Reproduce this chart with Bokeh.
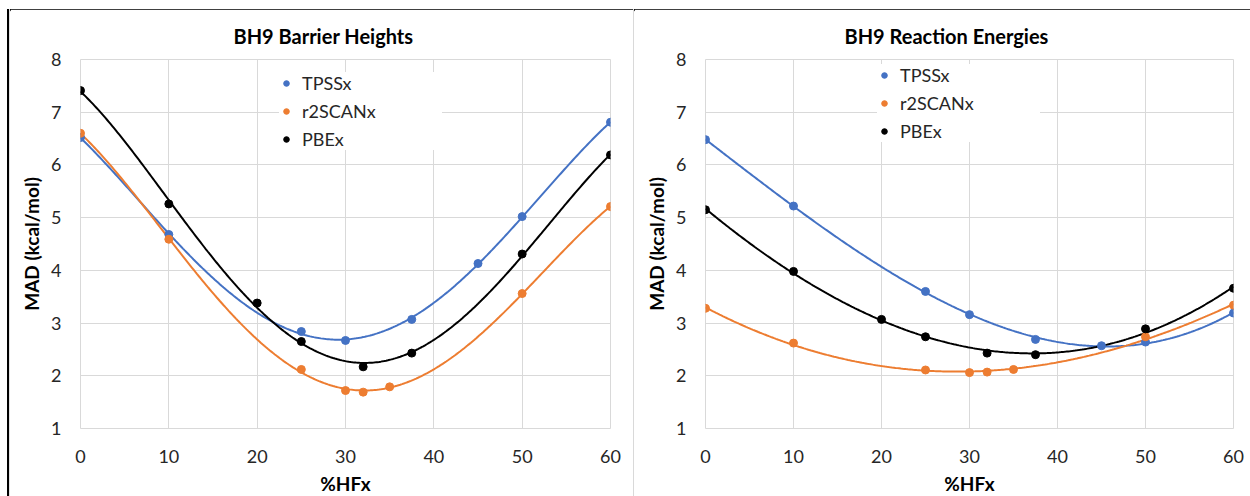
import numpy as np
from bokeh.plotting import figure
from bokeh.models import Legend, LegendItem, Range1d, FixedTicker, Div
from bokeh.layouts import row, column
from bokeh.embed import file_html
from bokeh.resources import INLINE

# %HF exchange values per series
hf_tpss = [0, 10, 25, 30, 37.5, 45, 50, 60]
hf_r2scan = [0, 10, 25, 30, 32, 35, 50, 60]
hf_pbe = [0, 10, 20, 25, 32, 37.5, 50, 60]

# BH9 barrier heights MAD (kcal/mol)
bh_tpss = [6.52, 4.68, 2.84, 2.67, 3.07, 4.13, 5.02, 6.81]
bh_r2scan = [6.60, 4.59, 2.12, 1.72, 1.69, 1.79, 3.56, 5.21]
bh_pbe = [7.41, 5.26, 3.38, 2.65, 2.17, 2.43, 4.31, 6.19]

# BH9 reaction energies MAD (kcal/mol)
re_tpss = [6.48, 5.22, 3.60, 3.16, 2.69, 2.57, 2.64, 3.19]
re_r2scan = [3.28, 2.62, 2.11, 2.06, 2.07, 2.12, 2.74, 3.34]
re_pbe = [5.15, 3.98, 3.07, 2.74, 2.43, 2.40, 2.89, 3.66]

series_names = ["TPSSx", "r2SCANx", "PBEx"]
series_colors = ["#4472C4", "#ED7D31", "#000000"]
x_ticks = [0, 10, 20, 30, 40, 50, 60]
y_ticks = [1, 2, 3, 4, 5, 6, 7, 8]

FONT = "Lato"
GRID = "#d9d9d9"
TXT = "#262626"


def make_panel(title, xs_list, ys_list, deg, borders, frame_w, legend_xy, title_offset):
    p = figure(output_backend="svg", toolbar_location=None,
               frame_width=frame_w, frame_height=369,
               min_border_left=borders[0], min_border_right=borders[1],
               min_border_top=50, min_border_bottom=68,
               x_range=Range1d(0, 60), y_range=Range1d(1, 8),
               background_fill_color="white", border_fill_color="white",
               outline_line_color=GRID)
    p.title.text = title
    p.title.align = "left"
    p.title.text_font = FONT
    p.title.text_font_style = "bold"
    p.title.text_font_size = "20px"
    p.title.text_color = "#000000"
    p.title.offset = title_offset
    p.title.standoff = 24

    for ax, ticks in ((p.xaxis, x_ticks), (p.yaxis, y_ticks)):
        ax.ticker = FixedTicker(ticks=ticks)
        ax.axis_line_color = None
        ax.major_tick_line_color = None
        ax.minor_tick_line_color = None
        ax.major_label_text_font = FONT
        ax.major_label_text_font_size = "18px"
        ax.major_label_text_color = TXT
        ax.axis_label_text_font = FONT
        ax.axis_label_text_font_style = "bold"
        ax.axis_label_text_font_size = "19px"
        ax.axis_label_text_color = "#000000"
    p.xaxis.axis_label = "%HFx"
    p.yaxis.axis_label = "MAD (kcal/mol)"
    p.xaxis.major_label_standoff = 15
    p.yaxis.major_label_standoff = 13
    p.xaxis.axis_label_standoff = 6
    p.yaxis.axis_label_standoff = 5

    p.xgrid.ticker = FixedTicker(ticks=x_ticks)
    p.ygrid.ticker = FixedTicker(ticks=y_ticks)
    for g in (p.xgrid, p.ygrid):
        g.grid_line_color = GRID
        g.grid_line_width = 1

    items = []
    xfine = np.linspace(0, 60, 301)
    for name, color, xs, ys in zip(series_names, series_colors, xs_list, ys_list):
        coef = np.polyfit(xs, ys, deg)
        p.line(xfine, np.polyval(coef, xfine), line_color=color, line_width=2)
    for name, color, xs, ys in zip(series_names, series_colors, xs_list, ys_list):
        r = p.scatter(xs, ys, marker="circle", size=8, fill_color=color, line_color=color)
        items.append(LegendItem(label=name, renderers=[r]))

    leg = Legend(items=items, location=legend_xy, margin=0, padding=6,
                 glyph_width=14, glyph_height=14, label_standoff=9,
                 spacing=6, label_height=20, label_width=140,
                 label_text_font=FONT, label_text_font_size="18px",
                 label_text_color=TXT, border_line_color=None,
                 background_fill_color="white", background_fill_alpha=1.0)
    p.add_layout(leg)
    return p


p1 = make_panel("BH9 Barrier Heights", [hf_tpss, hf_r2scan, hf_pbe],
                [bh_tpss, bh_r2scan, bh_pbe], 4, (70, 23), 530, (199, 278), 153)
p2 = make_panel("BH9 Reaction Energies", [hf_tpss, hf_r2scan, hf_pbe],
                [re_tpss, re_r2scan, re_pbe], 3, (71, 17), 528, (172, 286), 139)

top_html = ('<div style="position:relative;width:1250px;height:9px;overflow:hidden;">'
            '<div style="position:absolute;left:7px;top:6px;width:1243px;height:2px;background:#000;"></div>'
            '<div style="position:absolute;left:9px;top:8px;width:1241px;height:1px;background:#e3e3e3;"></div>'
            '</div>')
left_html = ('<div style="position:relative;width:10px;height:487px;overflow:hidden;">'
             '<div style="position:absolute;left:7px;top:0px;width:2px;height:487px;background:#000;"></div>'
             '<div style="position:absolute;left:9px;top:0px;width:1px;height:487px;background:#e3e3e3;"></div>'
             '</div>')
sep_html = '<div style="width:1px;height:487px;background:#d9d9d9;"></div>'

top = Div(text=top_html, width=1250, height=9, margin=0)
left = Div(text=left_html, width=10, height=487, margin=0)
sep = Div(text=sep_html, width=1, height=487, margin=0)

layout = column(top, row(left, p1, sep, p2, spacing=0), spacing=0)
open("out.html", "w").write(file_html(layout, INLINE))
